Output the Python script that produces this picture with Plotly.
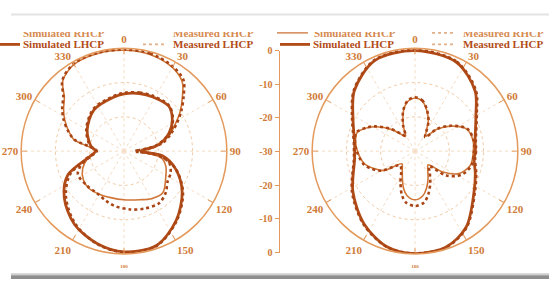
import plotly.graph_objects as go

# ---------------- data (dB vs angle, degrees) ----------------
# Left panel
L_RHCP_SIM_T = [0, 15, 30, 40, 47, 55, 62, 70, 78, 85, 90, 100, 110, 120, 137, 150, 162, 180, 196, 210, 223, 235, 247, 258, 270, 283, 290, 298, 305, 312, 319, 330, 345, 360]
L_RHCP_SIM_R = [-0.6, -0.8, -1.8, -3.6, -6.7, -10.0, -13.0, -15.8, -19.0, -22.5, -25.0, -19.0, -17.0, -15.9, -13.4, -14.0, -15.1, -15.8, -15.9, -15.5, -15.1, -15.5, -16.9, -19.0, -21.7, -15.0, -12.8, -10.4, -8.5, -6.6, -2.8, -0.8, -0.5, -0.6]

L_RHCP_MEAS_T = [0, 15, 30, 40, 47, 55, 62, 70, 78, 85, 90, 96, 104, 115, 125, 135, 146, 160, 174, 190, 200, 212, 228, 244, 258, 270, 283, 290, 298, 305, 312, 319, 330, 345, 360]
L_RHCP_MEAS_R = [-0.4, -0.5, -1.5, -3.0, -6.2, -9.6, -12.5, -15.5, -18.5, -23.0, -27.0, -21.0, -16.5, -15.0, -14.5, -12.8, -11.7, -12.2, -12.9, -13.8, -14.6, -15.4, -15.2, -15.0, -18.5, -22.0, -15.2, -12.6, -10.0, -8.0, -6.2, -2.6, -0.6, -0.3, -0.4]

L_LHCP_SIM_T = [0, 15, 28, 45, 57, 68, 80, 90, 97, 109, 125, 143, 161, 180, 196, 214, 232, 247, 262, 270, 279, 300, 324, 349, 360]
L_LHCP_SIM_R = [-13.3, -12.6, -12.1, -11.5, -13.2, -15.8, -20.0, -25.0, -18.7, -14.1, -9.3, -4.7, -0.9, -0.6, -1.9, -4.2, -7.9, -12.2, -20.2, -21.7, -20.2, -17.6, -15.1, -14.0, -13.3]

L_LHCP_MEAS_T = [0, 15, 28, 45, 57, 68, 80, 90, 97, 109, 125, 143, 161, 180, 196, 214, 232, 247, 262, 270, 279, 300, 324, 349, 360]
L_LHCP_MEAS_R = [-13.0, -12.3, -11.8, -11.3, -13.0, -15.5, -20.5, -26.0, -19.5, -14.0, -9.0, -4.5, -0.8, -0.5, -1.8, -4.5, -8.5, -13.0, -20.5, -22.0, -20.0, -17.3, -14.8, -13.7, -13.0]

# Right panel
R_LHCP_SIM_T = [0, 25, 45, 60, 80, 90, 98, 110, 124, 146, 162, 180, 196, 215, 237, 262, 270, 278, 299, 315, 336, 360]
R_LHCP_SIM_R = [-0.7, -1.4, -5.2, -9.5, -12.2, -12.4, -12.6, -11.3, -9.2, -3.3, -0.6, -0.1, -0.9, -4.1, -8.4, -12.2, -12.4, -12.2, -9.3, -5.0, -1.1, -0.7]

R_LHCP_MEAS_T = [0, 25, 45, 60, 80, 90, 98, 110, 124, 146, 162, 180, 196, 215, 237, 262, 270, 278, 299, 315, 336, 360]
R_LHCP_MEAS_R = [-0.5, -1.2, -4.9, -9.2, -12.0, -12.2, -12.3, -11.0, -8.9, -3.1, -0.5, -0.2, -0.8, -3.9, -8.1, -12.0, -12.2, -12.0, -9.0, -4.8, -0.9, -0.5]

R_RHCP_SIM_T = [0, 8, 16, 24, 30, 36, 45, 55, 67, 80, 90, 104, 117, 127, 136, 145, 155, 163, 170, 180, 190, 197, 204, 215, 226, 238, 247, 256, 270, 280, 288, 296, 302, 313, 322, 328, 335, 344, 352, 360]
R_RHCP_SIM_R = [-14.5, -15.2, -17.6, -20.5, -23.5, -24.6, -21.0, -17.3, -13.6, -12.8, -13.0, -13.3, -15.6, -19.9, -24.5, -23.5, -21.0, -18.6, -16.8, -15.8, -16.8, -18.6, -21.0, -23.5, -24.7, -19.3, -17.0, -14.8, -13.2, -12.4, -12.3, -14.5, -16.6, -20.8, -24.0, -24.8, -22.0, -17.8, -15.3, -14.5]

R_RHCP_MEAS_T = [0, 8, 16, 24, 30, 36, 45, 55, 67, 80, 90, 104, 117, 128, 137, 145, 155, 163, 170, 180, 190, 197, 205, 215, 226, 240, 248, 256, 270, 280, 288, 296, 302, 313, 322, 328, 335, 344, 352, 360]
R_RHCP_MEAS_R = [-14.3, -15.0, -17.4, -20.3, -23.3, -25.0, -20.8, -17.1, -13.4, -12.6, -12.8, -13.0, -14.8, -18.5, -24.0, -22.5, -19.5, -16.8, -14.8, -14.0, -14.8, -16.8, -20.0, -23.0, -24.0, -18.6, -16.3, -14.5, -13.0, -12.2, -12.1, -14.3, -16.4, -20.6, -23.8, -24.8, -21.8, -17.6, -15.1, -14.3]

ANGLE_TICKS = [0, 30, 60, 90, 120, 150, 180, 210, 240, 270, 300, 330]
ANGLE_LABELS = ['0', '30', '60', '90', '120', '150', '<span style="font-size:5px">180</span>',
                '210', '240', '270', '300', '330']
SCALE_VALS = [30, 20, 10, 0, -10, -20, -30]
SCALE_LABELS = ['0', '-10', '-20', '-30', '-20', '-10', '0']
LEGEND_NAMES = ['Simulated RHCP', 'Measured RHCP', 'Simulated LHCP', 'Measured LHCP']

# ---------------- styles ----------------
W, H = 549, 285
DARK = '#b24c18'
THIN = '#cf7638'
DASHC = '#a94515'
AXIS = '#e39a5c'
LABEL = '#d07b36'
FONT = 'Liberation Serif'

def px(x):
    return x / W

def py(y):
    return 1 - y / H

fig = go.Figure()

def add(sub, t, r, kind):
    if kind == 'thin':
        line = dict(color=THIN, width=1.6, shape='spline', smoothing=0.9)
    elif kind == 'thick':
        line = dict(color=DARK, width=2.8, shape='spline', smoothing=0.9)
    else:
        line = dict(color=DASHC, width=2.6, dash='3px,3px', shape='spline', smoothing=0.9)
    fig.add_trace(go.Scatterpolar(theta=t, r=r, mode='lines', line=line,
                                  subplot=sub, showlegend=False, hoverinfo='skip'))

add('polar', L_RHCP_SIM_T, L_RHCP_SIM_R, 'thin')
add('polar', L_RHCP_MEAS_T, L_RHCP_MEAS_R, 'dash')
add('polar', L_LHCP_SIM_T, L_LHCP_SIM_R, 'thick')
add('polar', L_LHCP_MEAS_T, L_LHCP_MEAS_R, 'dash')
add('polar2', R_RHCP_SIM_T, R_RHCP_SIM_R, 'thin')
add('polar2', R_RHCP_MEAS_T, R_RHCP_MEAS_R, 'dash')
add('polar2', R_LHCP_SIM_T, R_LHCP_SIM_R, 'thick')
add('polar2', R_LHCP_MEAS_T, R_LHCP_MEAS_R, 'dash')

# carrier for the central dB scale
fig.add_trace(go.Scatter(x=[], y=[], xaxis='x', yaxis='y', showlegend=False, hoverinfo='skip'))

def polar_layout(x0, x1, y0, y1):
    return dict(
        domain=dict(x=[px(x0), px(x1)], y=[py(y1), py(y0)]),
        bgcolor='white',
        radialaxis=dict(range=[-30, 0], tickvals=[-20, -10], showticklabels=False,
                        ticks='', showline=False, gridcolor='#f1c9a2', griddash='dot',
                        gridwidth=1),
        angularaxis=dict(direction='clockwise', rotation=90, tickmode='array',
                         tickvals=ANGLE_TICKS, ticktext=ANGLE_LABELS,
                         ticks='inside', ticklen=5, tickwidth=1, tickcolor=AXIS,
                         showline=True, linecolor=AXIS, linewidth=1.5,
                         gridcolor='#f6dcc3', griddash='dot', gridwidth=1,
                         tickfont=dict(family=FONT, size=11, color=LABEL, weight='bold')),
    )

R = 107
CY = 152
fig.update_layout(
    width=W, height=H, autosize=False,
    margin=dict(l=0, r=0, t=0, b=0),
    paper_bgcolor='white', plot_bgcolor='white',
    polar=polar_layout(124 - R, 124 + R, CY - R, CY + R),
    polar2=polar_layout(415 - R, 415 + R, CY - R, CY + R),
    xaxis=dict(domain=[px(280), px(282)], visible=False, range=[0, 1]),
    yaxis=dict(domain=[py(257.5), py(47.5)], range=[-30, 30], anchor='x', side='left',
               tickmode='array', tickvals=SCALE_VALS, ticktext=SCALE_LABELS,
               showline=True, linecolor=AXIS, linewidth=1.5, ticks='outside',
               ticklen=4, tickcolor=AXIS, showgrid=False, zeroline=False,
               tickfont=dict(family=FONT, size=10, color=LABEL, weight='bold')),
)

shapes = []
# screenshot frame lines
shapes.append(dict(type='line', xref='paper', yref='paper', x0=px(11), x1=1, y0=py(10), y1=py(10),
                   line=dict(color='#e4e4e4', width=2)))
shapes.append(dict(type='rect', xref='paper', yref='paper', x0=px(11), x1=1, y0=py(279), y1=py(281),
                   line=dict(width=0), fillcolor='#cfcfcf'))
shapes.append(dict(type='rect', xref='paper', yref='paper', x0=px(11), x1=1, y0=py(281), y1=0,
                   line=dict(width=0), fillcolor='#8e8e8e'))

def seg(x0, x1, y, kind):
    if kind == 'thin':
        ln = dict(color=THIN, width=1.3)
    elif kind == 'thick':
        ln = dict(color=DARK, width=2.8)
    else:
        ln = dict(color='#e0b08a', width=1.6, dash='3px,3px')
    shapes.append(dict(type='line', xref='paper', yref='paper', x0=px(x0), x1=px(x1),
                       y0=py(y), y1=py(y), line=ln))

seg(0, 20, 41, 'thick')
seg(143, 164, 41, 'dash')
seg(277, 308, 29, 'thin')
seg(432, 456, 29, 'dash')
seg(280, 310, 41, 'thick')
seg(432, 456, 41, 'dash')

annotations = []
def txt(x, y, s, color=LABEL):
    annotations.append(dict(xref='paper', yref='paper', x=px(x), y=py(y), text=s,
                            xanchor='left', yanchor='middle', showarrow=False,
                            font=dict(family=FONT, size=11, color=color, weight='bold')))

# first (clipped) legend row
txt(21, 29, LEGEND_NAMES[0], '#d68a50')
txt(171, 29, LEGEND_NAMES[1], '#d68a50')
txt(312, 29, LEGEND_NAMES[0], '#d68a50')
txt(461, 29, LEGEND_NAMES[1], '#d68a50')
# white cover hiding the top half of the first row
annotations.append(dict(xref='paper', yref='paper', x=px(11), y=py(12), text=' ',
                        xanchor='left', yanchor='top', showarrow=False, width=540, height=15,
                        bgcolor='white', borderpad=0, borderwidth=0))
# second legend row
txt(21, 41, LEGEND_NAMES[2], DARK)
txt(171, 41, LEGEND_NAMES[3], DARK)
txt(311, 41, LEGEND_NAMES[2], DARK)
txt(461, 41, LEGEND_NAMES[3], DARK)

fig.update_layout(shapes=shapes, annotations=annotations)

fig.write_html('out.html',
               config={'displayModeBar': False, 'staticPlot': True},
               post_script="document.body.style.margin='0';document.body.style.overflow='hidden';")
